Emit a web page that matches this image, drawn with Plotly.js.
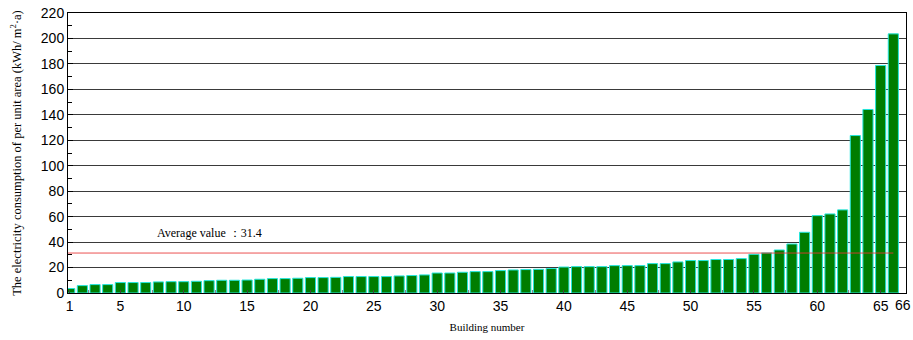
<!DOCTYPE html>
<html>
<head>
<meta charset="utf-8">
<script src="https://cdn.plot.ly/plotly-3.0.1.min.js"></script>
<style>
  html, body { margin: 0; padding: 0; background: #fff; }
  #chart { width: 913px; height: 340px; }
</style>
</head>
<body>
<div id="chart"></div>
<script>
// Per-building electricity use intensity (kWh/m²·a), sorted ascending
const buildingNumbers = Array.from({length: 66}, (_, i) => i + 1);
const consumption = [
  3.5, 5.8, 6.6, 6.6, 8.2, 8.2, 8.2, 8.7, 8.9, 8.9,
  9.2, 9.7, 10.0, 10.0, 10.2, 10.8, 11.3, 11.3, 11.6, 12.1,
  12.1, 12.3, 12.9, 12.9, 12.9, 12.9, 13.4, 13.7, 14.2, 15.7,
  15.7, 16.3, 16.8, 16.8, 17.6, 18.1, 18.4, 18.6, 19.2, 20.4,
  20.7, 20.7, 20.7, 21.5, 21.5, 21.5, 23.1, 23.1, 24.4, 25.5,
  25.5, 26.3, 26.3, 27.0, 30.4, 31.5, 33.8, 38.5, 47.7, 60.8,
  62.1, 65.3, 123.7, 144.2, 178.8, 203.6
];
const averageValue = 31.4;
const averageLabel = 'Average value \uFF1A' + averageValue;
const xTickVals = [1, 5, 10, 15, 20, 25, 30, 35, 40, 45, 50, 55, 60, 65];
const xTickText = xTickVals.map(String);
const lastLabel = '66';

const xRange = [0.866, 67.0];

const serif = '"Liberation Serif", "Times New Roman", serif';
const sans = '"Liberation Sans", Arial, sans-serif';

const bars = {
  type: 'bar',
  x: buildingNumbers,
  y: consumption,
  width: 0.8,
  marker: { color: '#007d00', line: { color: '#22e6dc', width: 1 } },
  hoverinfo: 'x+y'
};

const layout = {
  width: 913,
  height: 340,
  margin: { l: 68, r: 7, t: 13, b: 47 },
  paper_bgcolor: '#ffffff',
  plot_bgcolor: '#ffffff',
  showlegend: false,
  bargap: 0.2,
  xaxis: {
    range: xRange,
    tickvals: xTickVals,
    ticktext: xTickText,
    ticks: 'inside',
    ticklen: 3,
    tickcolor: '#444',
    minor: { dtick: 2.5, tick0: 0, ticks: 'inside', ticklen: 3, tickcolor: '#888' },
    showgrid: false,
    zeroline: false,
    showline: true,
    linecolor: '#000',
    linewidth: 1,
    mirror: true,
    tickfont: { family: sans, size: 14, color: '#000' },
    title: { text: 'Building number', font: { family: serif, size: 11, color: '#000' }, standoff: 10 }
  },
  yaxis: {
    range: [0, 220],
    dtick: 20,
    ticks: 'inside',
    ticklen: 5,
    tickcolor: '#000',
    minor: { dtick: 10, ticks: 'inside', ticklen: 4, tickcolor: '#000' },
    showgrid: true,
    gridcolor: '#3a3a3a',
    gridwidth: 1,
    zeroline: false,
    showline: true,
    linecolor: '#000',
    linewidth: 1,
    mirror: true,
    tickfont: { family: sans, size: 14, color: '#000' },
    title: {
      text: 'The electricity consumption of per unit area (kWh/ m<sup>2</sup>·a)',
      font: { family: serif, size: 12.5, color: '#000' },
      standoff: 16
    }
  },
  shapes: [{
    type: 'line', xref: 'x', yref: 'y',
    x0: xRange[0], x1: buildingNumbers[buildingNumbers.length - 1],
    y0: averageValue, y1: averageValue,
    line: { color: 'rgba(232,50,50,0.85)', width: 1 },
    layer: 'above'
  }],
  annotations: [
    {
      text: averageLabel, xref: 'x', yref: 'y',
      x: 12.0, y: averageValue + 8.5,
      xanchor: 'center', yanchor: 'bottom', showarrow: false,
      font: { family: serif, size: 12, color: '#000' }
    },
    {
      text: lastLabel, xref: 'x', yref: 'paper',
      x: buildingNumbers[buildingNumbers.length - 1], y: 0,
      xanchor: 'left', yanchor: 'top', yshift: -2, showarrow: false,
      font: { family: sans, size: 14, color: '#000' }
    }
  ]
};

Plotly.newPlot('chart', [bars], layout, { displayModeBar: false, staticPlot: true });
</script>
</body>
</html>
